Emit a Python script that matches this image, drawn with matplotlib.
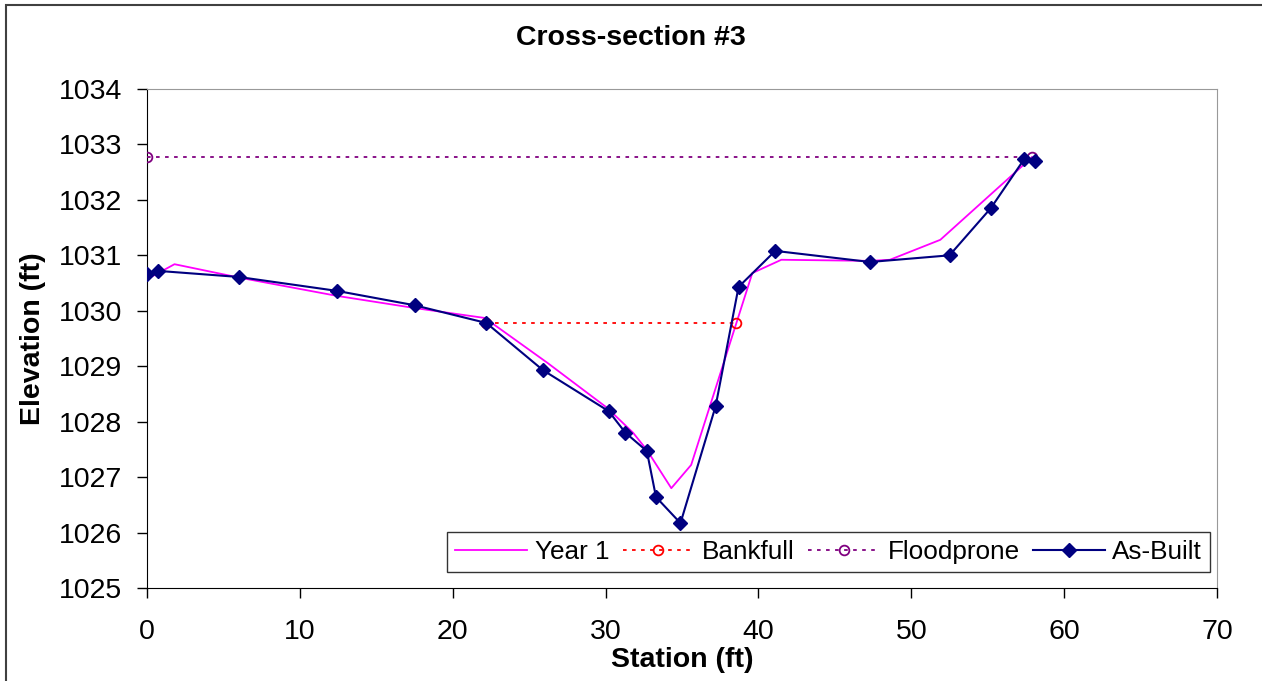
import matplotlib.pyplot as plt
from matplotlib.patches import Rectangle

plt.rcParams['font.family'] = ['Liberation Sans', 'DejaVu Sans']

# As-Built survey
asbuilt_x = [0.0, 0.7, 6.0, 12.4, 17.5, 22.2, 25.9, 30.2, 31.3, 32.7, 33.3, 34.9,
             37.2, 38.7, 41.1, 47.3, 52.5, 55.2, 57.4, 58.1]
asbuilt_y = [1030.66, 1030.72, 1030.61, 1030.36, 1030.10, 1029.78, 1028.93, 1028.19,
             1027.80, 1027.47, 1026.64, 1026.17, 1028.28, 1030.43, 1031.08, 1030.88,
             1031.00, 1031.85, 1032.74, 1032.70]

# Year 1 survey
year1_x = [0.0, 1.8, 6.0, 12.4, 17.5, 22.1, 26.2, 30.1, 31.8, 32.7, 34.3, 35.6,
           39.6, 41.5, 47.3, 48.6, 51.9, 57.9]
year1_y = [1030.57, 1030.84, 1030.60, 1030.27, 1030.05, 1029.87, 1029.06, 1028.25,
           1027.80, 1027.49, 1026.80, 1027.22, 1030.68, 1030.92, 1030.90, 1030.92,
           1031.28, 1032.77]

bankfull_x = [22.2, 38.5]
bankfull_y = [1029.78, 1029.78]
floodprone_x = [0.0, 57.9]
floodprone_y = [1032.78, 1032.78]

fig = plt.figure(figsize=(12.62, 6.81), dpi=100)
ax = fig.add_axes([147 / 1262, 1 - 588 / 681, 1070 / 1262, 499 / 681])

# outer chart border
fig.patches.append(Rectangle((6 / 1262, -0.05), 1.2, 1 - 5 / 681 + 0.05,
                             transform=fig.transFigure, fill=False,
                             edgecolor='#404040', linewidth=1.5))

ax.plot(year1_x, year1_y, color='#ff00ff', linewidth=1.3, label='Year 1', zorder=3)
ax.plot(bankfull_x, bankfull_y, color='red', linestyle=(0, (2, 3)), linewidth=1.3,
        marker='o', markersize=7, markerfacecolor='none', markeredgewidth=1.3,
        label='Bankfull', zorder=3)
ax.plot(floodprone_x, floodprone_y, color='#800080', linestyle=(0, (2, 3)),
        linewidth=1.3, marker='o', markersize=7, markerfacecolor='none',
        markeredgewidth=1.3, label='Floodprone', zorder=3)
ax.plot(asbuilt_x, asbuilt_y, color='#000080', linewidth=1.5, marker='D',
        markersize=7.5, label='As-Built', zorder=4)

ax.set_xlim(0, 70)
ax.set_ylim(1025, 1034)
ax.set_xticks(range(0, 71, 10))
ax.set_yticks(range(1025, 1035))
ax.tick_params(labelsize=20.5, direction='out', length=7, width=1)
ax.tick_params(axis='x', pad=15)
ax.tick_params(axis='y', pad=11)

for side in ['top', 'right']:
    ax.spines[side].set_color('#999999')
for side in ['left', 'bottom']:
    ax.spines[side].set_color('black')

fig.text(0.5, 1 - 38 / 681, 'Cross-section #3', fontsize=20.5, fontweight='bold',
         ha='center', va='center')
ax.set_xlabel('Station (ft)', fontsize=20.5, fontweight='bold')
ax.set_ylabel('Elevation (ft)', fontsize=20.5, fontweight='bold')
ax.xaxis.set_label_coords(0.5, -(647 - 588) / 499)
ax.yaxis.set_label_coords(-(147 - 46) / 1070, 0.5)

leg = ax.legend(loc='lower right', bbox_to_anchor=((1210 - 147) / 1070, 16 / 499),
                borderaxespad=0, ncol=4, fontsize=18.8, frameon=True,
                fancybox=False, edgecolor='black', handlelength=2.75,
                handletextpad=0.3, columnspacing=0.5, borderpad=0.3)
leg.get_frame().set_linewidth(1)
leg.set_zorder(2.5)

fig.savefig('out.png', dpi=100)
